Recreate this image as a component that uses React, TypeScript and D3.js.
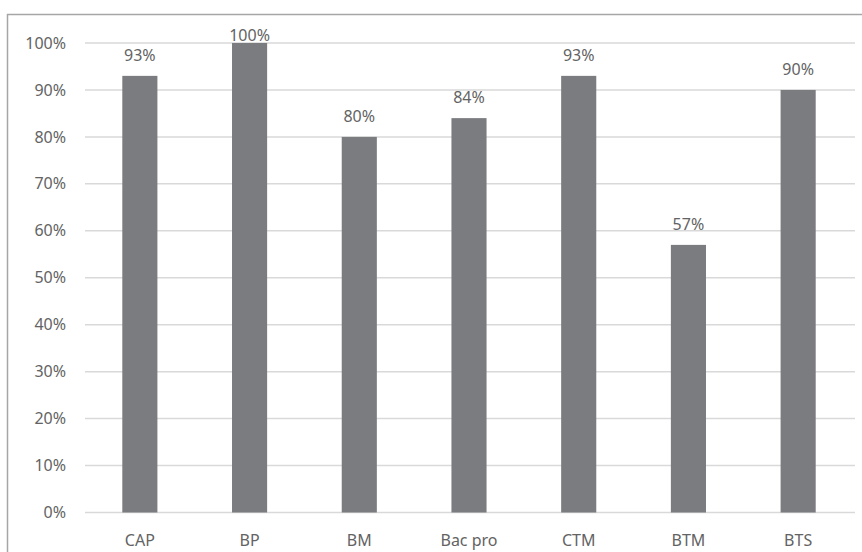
import * as d3 from "d3";
import React, { useEffect, useRef } from "react";

// diplomas and success rates (%)
const categories: string[] = ["CAP", "BP", "BM", "Bac pro", "CTM", "BTM", "BTS"];
const rates: number[] = [93, 100, 80, 84, 93, 57, 90];
const yTicks: number[] = [0, 10, 20, 30, 40, 50, 60, 70, 80, 90, 100];

const App = () => {
	const ref = useRef<SVGSVGElement>(null);

	useEffect(() => {
		const width = 862;
		const height = 552;
		const loff = 85;
		const roff = 7;
		const toff = 43;
		const boff = 39.5;
		const textColor = "#636363";
		const font = "'Noto Sans', sans-serif";

		const svg = d3.select(ref.current);
		svg.selectAll("*").remove();

		// chart frame
		svg.append("rect")
			.attr("x", 7.5)
			.attr("y", 14.5)
			.attr("width", width + 10)
			.attr("height", height)
			.attr("fill", "#fff")
			.attr("stroke", "#a6a6a6")
			.attr("stroke-width", 1.5);

		const xScale = d3
			.scaleBand()
			.domain(categories)
			.range([loff, width - roff - 2])
			.paddingInner(0.68)
			.paddingOuter(0.34);

		const yScale = d3
			.scaleLinear()
			.domain([0, 100])
			.range([height - boff, toff]);

		// gridlines
		svg.append("g")
			.selectAll("line")
			.data(yTicks)
			.join("line")
			.attr("x1", loff)
			.attr("x2", width - roff)
			.attr("y1", (d) => yScale(d))
			.attr("y2", (d) => yScale(d))
			.attr("stroke", "#d9d9d9")
			.attr("stroke-width", 1.5);

		// y labels
		svg.append("g")
			.selectAll("text")
			.data(yTicks)
			.join("text")
			.attr("x", 66)
			.attr("y", (d) => yScale(d))
			.attr("dy", "0.35em")
			.attr("text-anchor", "end")
			.attr("fill", textColor)
			.attr("font-family", font)
			.attr("font-size", 16)
			.text((d) => `${d}%`);

		// bars
		svg.append("g")
			.selectAll("rect")
			.data(rates)
			.join("rect")
			.attr("x", (d, i) => xScale(categories[i]) as number)
			.attr("y", (d) => yScale(d))
			.attr("width", xScale.bandwidth())
			.attr("height", (d) => yScale(0) - yScale(d))
			.attr("fill", "#7b7c80");

		// value labels, kept inside the frame
		svg.append("g")
			.selectAll("text")
			.data(rates)
			.join("text")
			.attr("x", (d, i) => (xScale(categories[i]) as number) + xScale.bandwidth() / 2)
			.attr("y", (d) => Math.max(yScale(d) - 15, 41))
			.attr("text-anchor", "middle")
			.attr("fill", textColor)
			.attr("font-family", font)
			.attr("font-size", 16)
			.text((d) => `${d}%`);

		// category labels
		svg.append("g")
			.selectAll("text")
			.data(categories)
			.join("text")
			.attr("x", (d) => (xScale(d) as number) + xScale.bandwidth() / 2)
			.attr("y", 540)
			.attr("dy", "0.35em")
			.attr("text-anchor", "middle")
			.attr("fill", textColor)
			.attr("font-family", font)
			.attr("font-size", 16)
			.text((d) => d);
	});

	return (
		<svg
			ref={ref}
			width={862}
			height={552}
			style={{ position: "absolute", left: 0, top: 0, background: "#fff" }}
		/>
	);
};

export default App;
